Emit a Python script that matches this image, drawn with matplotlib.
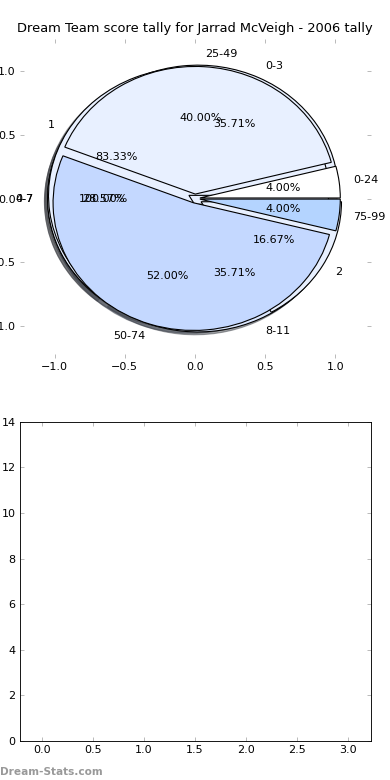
import matplotlib
matplotlib.use('Agg')
import matplotlib.pyplot as plt

# leftover pies from earlier charts, drawn first
range_labels = ['0-7']
range_counts = [1]

goal_labels = ['0-3', '4-7', '8-11']
goal_counts = [5, 4, 5]

game_labels = ['1', '2']
game_counts = [5, 1]

# the score tally itself
score_labels = ['0-24', '25-49', '50-74', '75-99']
score_counts = [1, 10, 13, 1]

pale = ['#e8f0ff', '#e8f0ff', '#dce8ff']
score_colors = ['#ffffff', '#e8f0ff', '#c4d8ff', '#b4d4ff']

plt.rcParams['font.family'] = 'DejaVu Sans'
plt.rcParams['font.size'] = 10

fig = plt.figure(figsize=(4.875, 9.75), dpi=80)
fig.subplots_adjust(left=0.05, right=0.95, top=0.95, bottom=0.05, hspace=0.2)

ax = fig.add_subplot(2, 1, 1)
wp = {'edgecolor': 'black', 'linewidth': 1}
for labels, counts, cols, ex in [(range_labels, range_counts, pale, 0.05),
                                 (goal_labels, goal_counts, pale, 0.05),
                                 (game_labels, game_counts, pale, 0.05),
                                 (score_labels, score_counts, score_colors, 0.035)]:
    ax.pie(counts, labels=labels, colors=cols[:len(counts)],
           explode=[ex] * len(counts), autopct='%1.2f%%',
           shadow=True, wedgeprops=wp,
           textprops={'fontsize': 10})

ax.set_aspect('auto')
ax.set_frame_on(False)
ax.set_xlim(-1.25, 1.25)
ax.set_ylim(-1.25, 1.25)
ax.set_xticks([-1.0, -0.5, 0.0, 0.5, 1.0])
ax.set_yticks([-1.0, -0.5, 0.0, 0.5, 1.0])
ax.tick_params(direction='in', top=True, right=True, color='0.7', length=4,
               labelsize=10)
ax.set_title('Dream Team score tally for Jarrad McVeigh - 2006 tally',
             fontsize=11.7)

ax2 = fig.add_subplot(2, 1, 2)
ax2.set_xlim(-0.22, 3.22)
ax2.set_ylim(0, 14)
ax2.set_xticks([0.0, 0.5, 1.0, 1.5, 2.0, 2.5, 3.0])
ax2.set_yticks(range(0, 15, 2))
ax2.tick_params(direction='in', top=True, right=True, color='0.7', length=4,
                labelsize=10)

fig.text(0.0, 0.004, 'Dream-Stats.com', color='#999999', fontsize=9.5,
         fontweight='bold', ha='left', va='bottom')

fig.savefig('out.png', dpi=80)
